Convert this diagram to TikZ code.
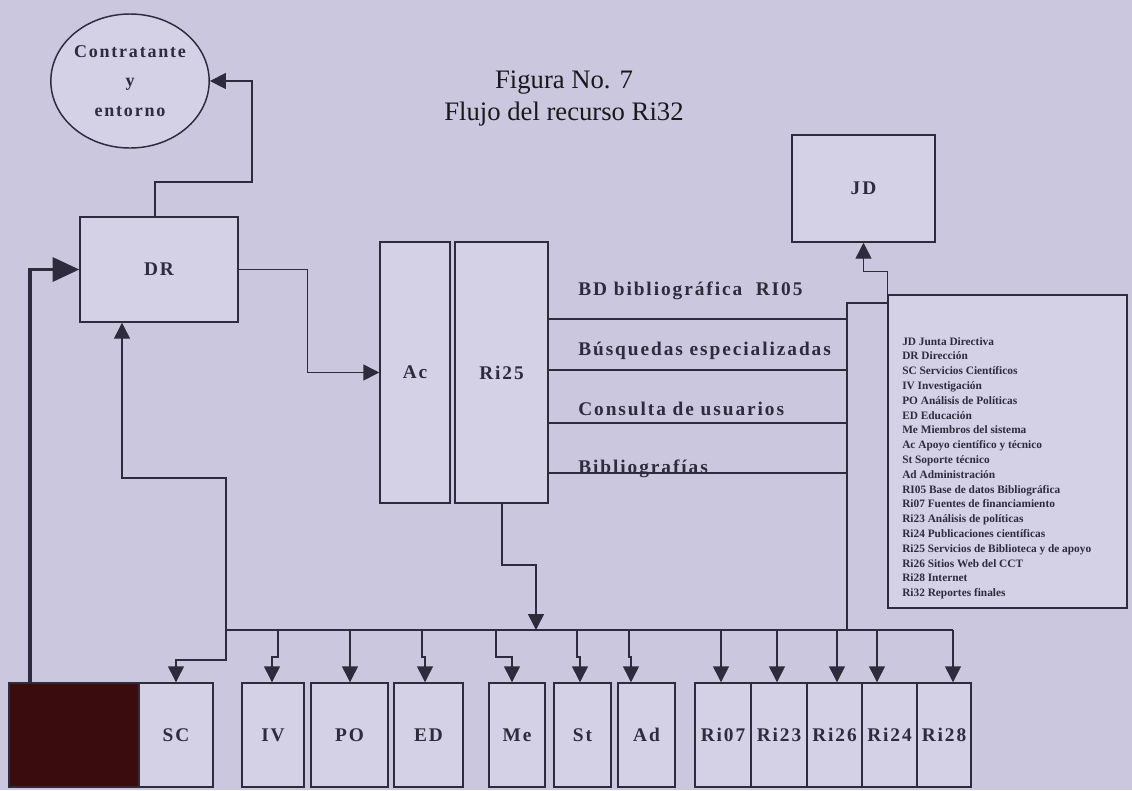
\documentclass[tikz,border=0pt]{standalone}
\usepackage{fontspec}
\setmainfont{Liberation Serif}
\newfontfamily\lblfont[LetterSpace=10]{Liberation Serif}
\usetikzlibrary{arrows.meta,positioning,shapes.geometric}
\definecolor{paper}{RGB}{203,199,222}
\definecolor{boxfill}{RGB}{212,208,229}
\definecolor{ink}{RGB}{45,43,60}
\definecolor{darkbox}{RGB}{58,12,14}

\begin{document}
\begin{tikzpicture}[x=0.75pt,y=-0.75pt,
  ln/.style={draw=ink,line width=1.1pt},
  arr/.style={ln,-{Triangle[length=12pt,width=12pt]}},
  unit/.style={ln,fill=boxfill,inner sep=0pt,text=ink,
    font=\lblfont\bfseries\fontsize{14.5}{17}\selectfont},
  rowlbl/.style={anchor=base west,inner sep=0pt,text=ink,
    font=\lblfont\bfseries\fontsize{14.5}{17}\selectfont},
  keyline/.style={anchor=base west,inner sep=0pt,text=ink,
    font=\bfseries\fontsize{8.5}{10}\selectfont}]
\useasboundingbox[fill=paper] (0,0) rectangle (1132,790);

% title
\node[align=center,text=black!90,font=\fontsize{20}{24}\selectfont] (title) at (564,99) {Figura No. 7\\Flujo del recurso Ri32};

% upper blocks
\node[ellipse,ln,fill=boxfill,minimum width=117pt,minimum height=100.5pt,inner sep=0pt,align=center,text=ink,
  font=\lblfont\bfseries\fontsize{13.5}{22}\selectfont] (env) at (130,81) {Contratante\\y\\entorno};
\node[unit,minimum width=118.5pt,minimum height=78.75pt] (dr) at (159,269.5) {DR};
\node[unit,minimum width=52.5pt,minimum height=195.75pt] (ac) at (415,372.5) {Ac};
\node[unit,minimum width=69.75pt,minimum height=195.75pt] (ri25) at (501.5,372.5) {Ri25};
\node[unit,minimum width=107.25pt,minimum height=80.25pt] (jd) at (863.5,188.5) {JD};

% key box
\node[ln,fill=boxfill,minimum width=179.25pt,minimum height=234.75pt,inner sep=0pt] (key) at (1007.5,451.5) {};
\foreach \t [count=\i from 0] in {JD Junta Directiva,DR Dirección,SC Servicios Científicos,IV Investigación,
  PO Análisis de Políticas,ED Educación,Me Miembros del sistema,Ac Apoyo científico y técnico,
  St Soporte técnico,Ad Administración,RI05 Base de datos Bibliográfica,Ri07 Fuentes de financiamiento,
  Ri23 Análisis de políticas,Ri24 Publicaciones científicas,Ri25 Servicios de Biblioteca y de apoyo,
  Ri26 Sitios Web del CCT,Ri28 Internet,Ri32 Reportes finales}
  \node[keyline] (key\i) at (902,{345+14.8*\i}) {\t};

% Ri32 column and bus
\coordinate (ri32) at (847,303);
\coordinate (bus) at (226,630);
\coordinate (busend) at (953,630);
\draw[ln] (key.north west |- ri32) -- (ri32) -- (ri32 |- bus);
\draw[ln] (bus) -- (busend);

% services rows
\foreach \y/\t/\b in {319/BD bibliográfica~ RI05/295,370/Búsquedas especializadas/355,
  423/Consulta de usuarios/415,473/Bibliografías/473} {
  \draw[ln] (ri25.east |- 0,\y) -- (ri32 |- 0,\y);
  \node[rowlbl] (row\y) at (578,\b) {\t};
}

% bottom units
\node[ln,fill=darkbox,minimum width=97.5pt,minimum height=78pt,inner sep=0pt] (dark) at (74,735) {};
\foreach \nm/\xa/\xb/\t in {sc/139/213/SC,iv/242/304/IV,po/311/388/PO,ed/394/463/ED,me/489/545/Me,
  st/554/611/St,ad/618/675/Ad,ri07/695/751/Ri07,ri23/751/807/Ri23,ri26/807/862/Ri26,
  ri24/862/917/Ri24,ri28/917/971/Ri28}
  \node[unit,minimum width={(\xb-\xa)*0.75pt},minimum height=78pt] (\nm) at ({(\xa+\xb)/2},735) {\t};

% connectors
\draw[arr] (dr.north -| 155,0) |- (252,182) |- (env.east);
\draw[arr] (dr.east) -- ++(69,0) |- (ac.west);
\draw[ln,line width=2.6pt,-{Triangle[length=20pt,width=18pt]}] (dark.north -| 30,0) |- (dr.west);
\draw[arr] (key.north west) -- ++(0,-23) -| (jd.south);
\draw[arr] (ri25.south -| 502,0) |- (536,565) -- (bus -| 536,0);
\draw[arr] (bus) |- (122,478) -- (dr.south -| 122,0);
\draw[arr] (bus) -- ++(0,30) -| (sc.north);
\foreach \nm/\st/\tp in {iv/278/272,po/350/350,ed/422/425,me/496/512,st/577/580,ad/629/631,
  ri07/721/721,ri23/777/777,ri26/837/837,ri24/877/877,ri28/953/953}
  \draw[arr] (\st,630) |- (\tp,657) -- (\nm.north -| \tp,0);
\end{tikzpicture}
\end{document}
